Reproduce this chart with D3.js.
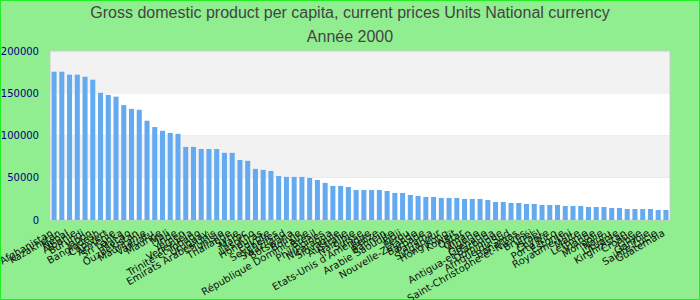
<!DOCTYPE html>
<html>
<head>
<meta charset="utf-8">
<script src="https://cdn.jsdelivr.net/npm/d3@7"></script>
<style>
  body { margin: 0; }
  svg { display: block; }
</style>
</head>
<body>
<div id="chart"></div>
<script>
const titleLines = [
  'Gross domestic product per capita, current prices Units National currency',
  'Année 2000',
];

const countries = [
  'Afghanistan', 'Kazakhstan', 'Népal', 'Albanie', 'Burundi', 'Japon', 'Bangladesh', 'Cap-Vert',
  'Arménie', 'Sri Lanka', 'Macao', 'Ouzbékistan', 'Mauritanie', 'Vanuatu', 'Maurice', 'Mali',
  'Inde', 'Yémen', 'Venezuela', 'Trinité-et-Tobago', 'Uruguay', 'Emirats Arabes Unis', 'Tunisie', 'Thaïlande',
  'Syrie', 'Maroc', 'Lesotho', 'Honduras', 'Egypte', 'Seychelles', 'Swaziland', 'Botswana',
  'Bolivie', 'République Dominicaine', 'Brésil', 'Philippines', 'Nicaragua', 'Slovaquie', 'Australie', 'Namibie',
  'Suisse', "Etats-Unis d'Amérique", 'Belize', 'Bahreïn', 'Arabie Saoudite', 'Fidji', 'Pérou', 'Nouvelle-Zélande',
  'Barbade', 'Panama', 'Singapour', 'Hong Kong', 'Koweït', 'Qatar', 'Oman', 'Algérie',
  'Grenade', 'Antigua-et-Barbuda', 'Dominique', 'Afrique du Sud', 'Bahamas', 'Saint-Christophe-et-Niévès', 'Brunéi', 'Israël',
  'Chypre', 'Porto Rico', 'Estonie', 'Royaume-Uni', 'Malte', 'Lettonie', 'Irlande', 'Mongolie',
  'Nauru', 'Lituanie', 'Kirghizistan', 'Croatie', 'Libye', 'Gambie', 'Sainte-Lucie', 'Guatemala',
];

const gdpValues = [
  175500, 175500, 172000, 172000, 169500, 166000, 150500, 148000,
  146000, 136000, 131500, 130500, 117500, 110000, 105500, 103000,
  102000, 86500, 86500, 84000, 84000, 84000, 79500, 79500,
  71000, 70000, 60500, 59300, 58000, 52000, 51000, 51000,
  51000, 49800, 47400, 43900, 40300, 40300, 39100, 35600,
  35600, 35600, 35600, 34400, 32000, 32000, 29600, 28500,
  27300, 27300, 26100, 26100, 26100, 24900, 24900, 24900,
  23700, 21300, 21300, 20200, 20200, 19000, 19000, 17800,
  17800, 17800, 16600, 16600, 16600, 15400, 15400, 15400,
  14200, 14200, 13000, 13000, 13000, 13000, 11900, 11900,
];

const yTicks = [0, 50000, 100000, 150000, 200000];

const data = countries.map((name, i) => ({ name, value: gdpValues[i] }));

const width = 700;
const height = 300;
const margin = { top: 51, right: 30, bottom: 80, left: 50 };
const chartWidth = width - margin.left - margin.right;
const chartHeight = height - margin.top - margin.bottom;

const svg = d3.select('#chart')
  .append('svg')
  .attr('width', width)
  .attr('height', height);

// page background with its bright border
svg.append('rect')
  .attr('width', width)
  .attr('height', height)
  .attr('fill', '#90ee90')
  .attr('stroke', '#22ee22')
  .attr('stroke-width', 2);

// title
svg.append('g')
  .selectAll('text')
  .data(titleLines)
  .enter()
  .append('text')
  .attr('x', width / 2)
  .attr('y', (d, i) => 18 + i * 24)
  .attr('text-anchor', 'middle')
  .attr('font-family', '"Liberation Sans", Arial, sans-serif')
  .attr('font-size', 16)
  .attr('fill', '#444')
  .text(d => d);

const g = svg.append('g')
  .attr('transform', `translate(${margin.left}, ${margin.top})`);

const x = d3.scaleBand()
  .domain(data.map(d => d.name))
  .range([0, chartWidth])
  .paddingInner(0.35)
  .paddingOuter(0.2);

const y = d3.scaleLinear()
  .domain([0, 200000])
  .range([chartHeight, 0]);

// alternating bands between the ticks
const bands = d3.pairs(yTicks);
g.append('g')
  .selectAll('rect')
  .data(bands)
  .enter()
  .append('rect')
  .attr('x', 0)
  .attr('width', chartWidth)
  .attr('y', d => y(d[1]))
  .attr('height', d => y(d[0]) - y(d[1]))
  .attr('fill', (d, i) => (i % 2 ? '#f2f2f2' : '#fff'));

g.append('rect')
  .attr('width', chartWidth)
  .attr('height', chartHeight)
  .attr('fill', 'none')
  .attr('stroke', '#ccc');

// y axis
const yG = g.append('g')
  .call(d3.axisLeft(y).tickValues(yTicks).tickSize(0).tickPadding(11).tickFormat(d3.format('d')));
yG.select('.domain').remove();
yG.selectAll('text')
  .attr('font-family', '"DejaVu Sans", sans-serif')
  .attr('font-size', 10)
  .attr('fill', '#00007f');

// bars
g.append('g')
  .selectAll('rect')
  .data(data)
  .enter()
  .append('rect')
  .attr('x', d => x(d.name))
  .attr('y', d => y(d.value))
  .attr('width', x.bandwidth())
  .attr('height', d => chartHeight - y(d.value))
  .attr('fill', '#64aaf0');

// x axis, slanted labels
const xG = g.append('g')
  .attr('transform', `translate(0, ${chartHeight})`)
  .call(d3.axisBottom(x).tickSize(0).tickPadding(0));
xG.select('.domain').remove();
xG.selectAll('text')
  .attr('font-family', '"DejaVu Sans", sans-serif')
  .attr('font-size', 10)
  .attr('fill', '#111')
  .attr('text-anchor', 'end')
  .attr('dy', '0.35em')
  .attr('transform', 'translate(-2, 12) rotate(-30)');
</script>
</body>
</html>
